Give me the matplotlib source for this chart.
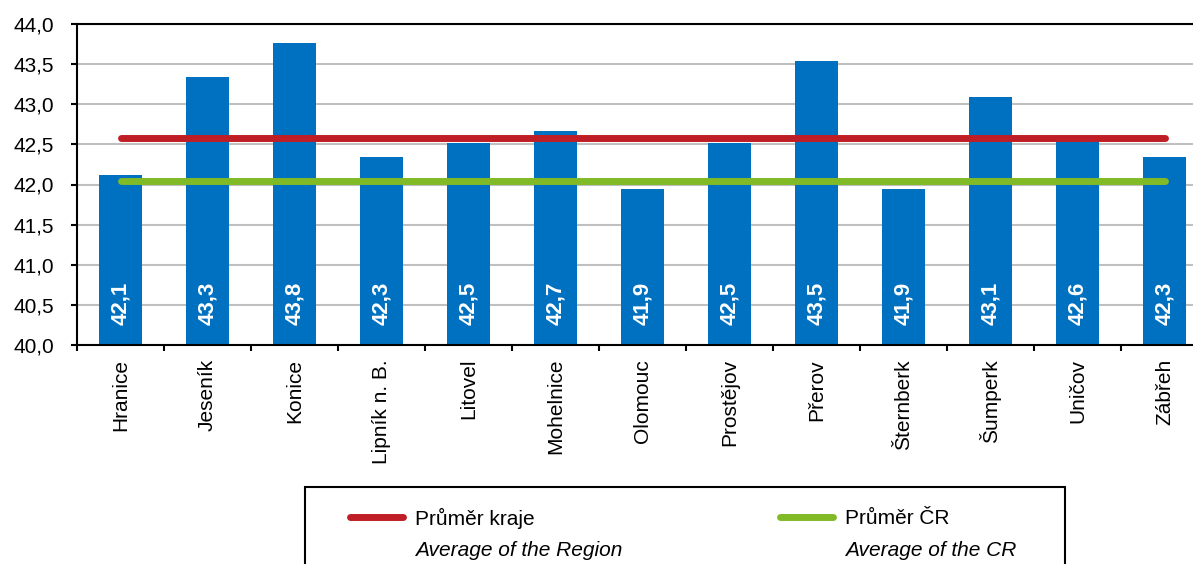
import numpy as np
import matplotlib
matplotlib.use('Agg')
from matplotlib import pyplot as plt
from matplotlib.lines import Line2D
from matplotlib.patches import Rectangle
from matplotlib.ticker import FuncFormatter, FixedLocator

plt.rcParams['font.family'] = ['Liberation Sans', 'DejaVu Sans']

# Data
towns = ['Hranice', 'Jeseník', 'Konice', 'Lipník n. B.', 'Litovel', 'Mohelnice', 'Olomouc',
         'Prostějov', 'Přerov', 'Šternberk', 'Šumperk', 'Uničov', 'Zábřeh']
avg_age = [42.12, 43.34, 43.76, 42.34, 42.52, 42.67, 41.94,
           42.52, 43.54, 41.94, 43.09, 42.56, 42.34]
bar_labels = ['42,1', '43,3', '43,8', '42,3', '42,5', '42,7', '41,9',
              '42,5', '43,5', '41,9', '43,1', '42,6', '42,3']
region_avg = 42.58
cr_avg = 42.04

bar_color = '#0070C0'
red = '#C01E26'
green = '#80BA27'

fig = plt.figure(figsize=(11.93, 5.64), dpi=100)
ax = fig.add_axes([77 / 1193, 1 - 345 / 564, 1131 / 1193, 321 / 564])

x = np.arange(len(towns))
ax.bar(x, avg_age, width=0.5, color=bar_color, zorder=2)

# Average lines
ax.plot([x[0], x[-1]], [region_avg, region_avg], color=red, lw=5, solid_capstyle='round', zorder=3)
ax.plot([x[0], x[-1]], [cr_avg, cr_avg], color=green, lw=5, solid_capstyle='round', zorder=3)

# Value labels inside bars
for xi, lab in zip(x, bar_labels):
    ax.text(xi, 40.52, lab, rotation=90, ha='center', va='center', color='white',
            fontsize=16, fontweight='bold', zorder=4)

ax.set_xlim(-0.5, len(towns) - 0.5)
ax.set_ylim(40, 44)
ax.set_yticks(np.arange(40, 44.01, 0.5))
ax.yaxis.set_major_formatter(FuncFormatter(lambda v, p: f'{v:.1f}'.replace('.', ',')))
ax.yaxis.grid(True, color='#C0C0C0', lw=1.5, zorder=0)
ax.set_axisbelow(True)

ax.set_xticks(x)
ax.set_xticklabels(towns, rotation=90, fontsize=15)
ax.xaxis.set_minor_locator(FixedLocator(np.arange(-0.5, len(towns), 1)))
ax.tick_params(axis='x', which='major', length=0, pad=10)
ax.tick_params(axis='x', which='minor', length=4.5, width=1.5, direction='out')
ax.tick_params(axis='y', length=4.5, width=1.5, direction='out', labelsize=15, pad=12)

for side in ['left', 'bottom', 'top']:
    ax.spines[side].set_linewidth(1.5)
    ax.spines[side].set_color('black')
ax.spines['right'].set_visible(False)

# Legend box drawn in figure coordinates
W, H = 1193, 564
fig.add_artist(Rectangle((305 / W, -0.1), (1065 - 305) / W, 0.1 + 1 - 487 / H,
                         transform=fig.transFigure, fill=False, edgecolor='black', lw=1.5))
fig.add_artist(Line2D([350 / W, 403 / W], [1 - 517 / H] * 2, transform=fig.transFigure,
                      color=red, lw=5, solid_capstyle='round'))
fig.add_artist(Line2D([780 / W, 833 / W], [1 - 517 / H] * 2, transform=fig.transFigure,
                      color=green, lw=5, solid_capstyle='round'))
fig.text(415 / W, 1 - 518 / H, 'Průměr kraje', fontsize=15, va='center')
fig.text(415 / W, 1 - 550 / H, 'Average of the Region', fontsize=15, va='center', style='italic')
fig.text(845 / W, 1 - 518 / H, 'Průměr ČR', fontsize=15, va='center')
fig.text(845 / W, 1 - 550 / H, 'Average of the CR', fontsize=15, va='center', style='italic')

fig.savefig('out.png', dpi=100)
